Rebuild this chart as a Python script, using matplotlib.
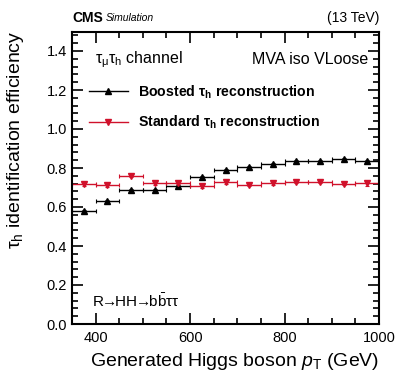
import numpy as np
import matplotlib
matplotlib.use("Agg")
import matplotlib.pyplot as plt
from matplotlib.lines import Line2D
from matplotlib.ticker import MultipleLocator

plt.rcParams['font.family'] = ['Liberation Sans', 'DejaVu Sans']
plt.rcParams['mathtext.fontset'] = 'custom'
plt.rcParams['mathtext.rm'] = 'Liberation Sans'
plt.rcParams['mathtext.it'] = 'Liberation Sans:italic'
plt.rcParams['mathtext.bf'] = 'Liberation Sans:bold'

bin_centers = [375, 425, 475, 525, 575, 625, 675, 725, 775, 825, 875, 925, 975]
bin_half_width = 25
boosted_eff = [0.581, 0.632, 0.686, 0.688, 0.708, 0.755, 0.790, 0.803, 0.819, 0.837, 0.836, 0.845, 0.834]
boosted_err = [0.006, 0.006, 0.006, 0.006, 0.006, 0.006, 0.006, 0.006, 0.006, 0.006, 0.006, 0.007, 0.008]
standard_eff = [0.716, 0.711, 0.761, 0.721, 0.725, 0.708, 0.727, 0.714, 0.721, 0.728, 0.728, 0.720, 0.721]
standard_err = [0.007, 0.007, 0.007, 0.007, 0.008, 0.011, 0.007, 0.007, 0.007, 0.007, 0.007, 0.008, 0.012]

red = '#d0112b'

fig = plt.figure(figsize=(3.99, 3.83), dpi=100)
ax = fig.add_axes([72/399, 59/383, (379-72)/399, (324-31.5)/383])

ax.errorbar(bin_centers, boosted_eff, xerr=bin_half_width, yerr=boosted_err,
            fmt='^', color='black', ms=4.5, lw=1.0, capsize=1.5, capthick=0.8)
ax.errorbar(bin_centers, standard_eff, xerr=bin_half_width, yerr=standard_err,
            fmt='v', color=red, ms=4.5, lw=1.0, capsize=1.5, capthick=0.8)

ax.set_xlim(350, 1000)
ax.set_ylim(0, 1.5)
ax.xaxis.set_major_locator(MultipleLocator(200))
ax.xaxis.set_minor_locator(MultipleLocator(50))
ax.yaxis.set_minor_locator(MultipleLocator(0.04))
ax.set_yticks([0, 0.2, 0.4, 0.6, 0.8, 1.0, 1.2, 1.4])
ax.set_yticklabels(['0.0', '0.2', '0.4', '0.6', '0.8', '1.0', '1.2', '1.4'])
ax.tick_params(which='both', direction='in', top=True, right=True, labelsize=10.5, width=1.2)
ax.tick_params(which='major', length=8)
ax.tick_params(which='minor', length=4)
ax.tick_params(axis='x', pad=5)
for s in ax.spines.values():
    s.set_linewidth(1.5)

ax.set_xlabel(r'Generated Higgs boson $p_{\mathrm{T}}$ (GeV)', fontsize=14, loc='right')
fig.text(16/399, 1 - 140/383, r'$\mathrm{τ_{h}}$ identification efficiency', fontsize=14,
         rotation=90, ha='center', va='center')

fig.text(72/399, 1 - 18/383, 'CMS', fontsize=10, fontweight='bold', va='center', ha='left')
fig.text(106/399, 1 - 18/383, 'Simulation', fontsize=7.5, style='italic', va='center', ha='left')
fig.text(379/399, 1 - 18/383, '(13 TeV)', fontsize=10, va='center', ha='right')

ax.text(0.075, 0.905, r'$\mathrm{τ_{μ}τ_{h}}$ channel', transform=ax.transAxes, fontsize=11.5, va='center', ha='left')
ax.text(0.965, 0.905, 'MVA iso VLoose', transform=ax.transAxes, fontsize=11.5, va='center', ha='right')
ax.text(0.065, 0.08, r'$\mathrm{R}\!\!\rightarrow\!\!\mathrm{HH}\!\!\rightarrow\!\!\mathrm{b}\bar{\mathrm{b}}\mathrm{ττ}$',
        transform=ax.transAxes, fontsize=11, va='center', ha='left')

handles = [Line2D([0], [0], color='black', marker='^', ms=4.5, lw=1.0),
           Line2D([0], [0], color=red, marker='v', ms=4.5, lw=1.0)]
labels = [r'Boosted $\mathbf{τ_{h}}$ reconstruction', r'Standard $\mathbf{τ_{h}}$ reconstruction']
leg = ax.legend(handles, labels, loc='upper left', bbox_to_anchor=(0.015, 0.867), frameon=False,
                prop={'weight': 'bold', 'size': 10.2}, handlelength=2.7, labelspacing=0.95, handletextpad=0.7)

fig.savefig('out.png', dpi=100)
